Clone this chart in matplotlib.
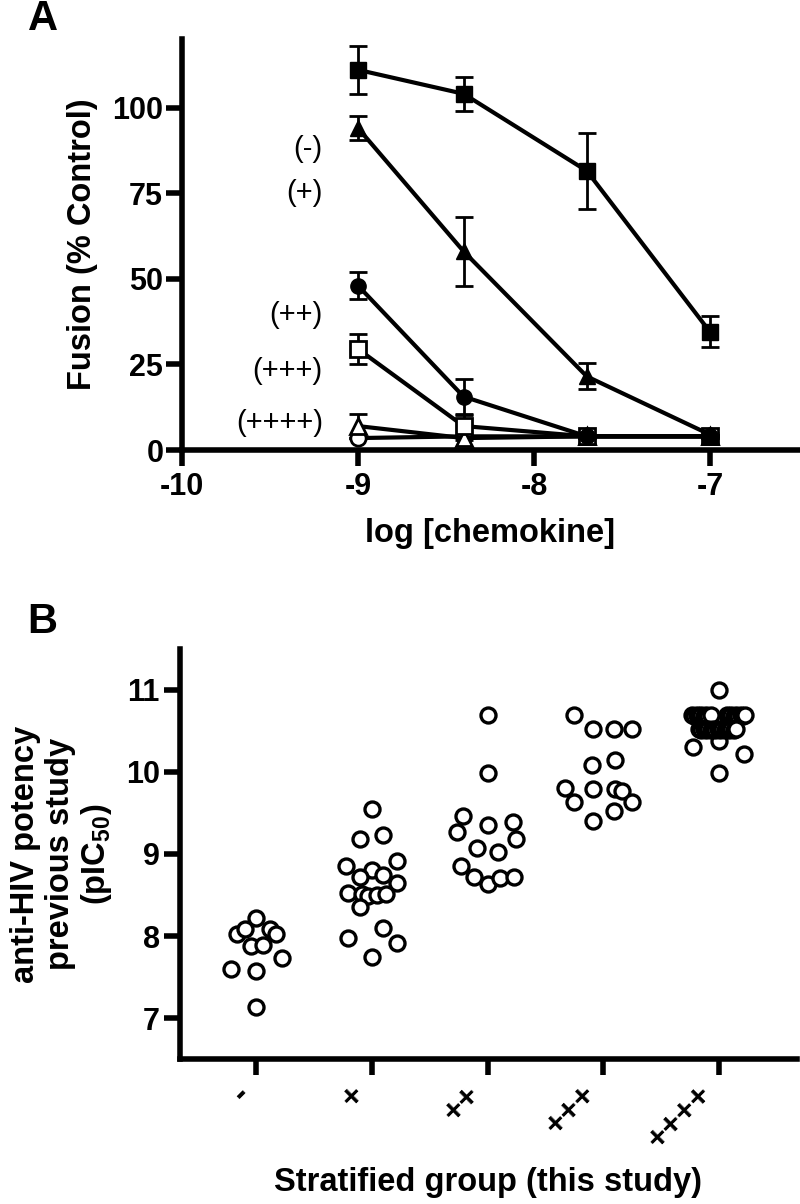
import matplotlib
matplotlib.use("Agg")
import matplotlib.pyplot as plt
import numpy as np

plt.rcParams['font.family'] = ['Liberation Sans', 'DejaVu Sans']
plt.rcParams['font.weight'] = 'bold'
plt.rcParams['axes.unicode_minus'] = False
plt.rcParams['mathtext.fontset'] = 'custom'
plt.rcParams['mathtext.rm'] = 'Liberation Sans:bold'
plt.rcParams['mathtext.default'] = 'rm'

# ---- Panel A data: fusion (% control) vs log [chemokine]
log_conc = [-9, -8.4, -7.7, -7]
fus_sq = [111, 104, 81.5, 34.5]
err_sq = [7, 5, 11, 4.5]
fus_tri = [94, 58, 21.5, 4.5]
err_tri = [3.5, 10, 3.8, 0.5]
fus_circ = [48, 15.6, 4, 4]
err_circ = [4, 5, 0.5, 0.5]
fus_osq = [29.5, 7, 4, 4]
err_osq = [4.5, 3.2, 0.5, 0.5]
fus_otri = [7, 3.5, 4, 4]
err_otri = [3.5, 0.5, 0.5, 0.5]
fus_ocirc = [3.5, 4, 4, 4]
err_ocirc = [0, 0, 0, 0]

grade_labels = ['(-)', '(+)', '(++)', '(+++)', '(++++)']
grade_label_y = [88, 75, 39.5, 23, 8]

# ---- Panel B data: pIC50 per stratified group (value, horizontal spread)
groups = ['-', '+', '++', '+++', '++++']
vals1 = [8.22, 8.03, 8.08, 8.08, 8.03, 7.88, 7.89, 7.73, 7.60, 7.57, 7.13]
offs1 = [0, -0.17, -0.10, 0.12, 0.17, -0.05, 0.06, 0.22, -0.22, 0, 0]
vals2 = [9.55, 9.18, 9.23, 8.85, 8.91, 8.81, 8.72, 8.75, 8.65, 8.52, 8.51, 8.49,
         8.50, 8.51, 8.35, 8.10, 7.98, 7.92, 7.74]
offs2 = [0, -0.10, 0.10, -0.22, 0.22, 0, -0.10, 0.10, 0.22, -0.21, -0.09, -0.03,
         0.04, 0.12, -0.10, 0.10, -0.21, 0.22, 0]
vals3 = [10.69, 9.99, 9.46, 9.27, 9.35, 9.39, 9.18, 9.07, 9.02, 8.85, 8.72, 8.64, 8.71, 8.72]
offs3 = [0, 0, -0.21, -0.26, 0, 0.22, 0.25, -0.09, 0.09, -0.23, -0.12, 0, 0.11, 0.23]
vals4 = [10.69, 10.52, 10.52, 10.52, 10.09, 10.15, 9.81, 9.79, 9.79, 9.77, 9.63, 9.63, 9.52, 9.40]
offs4 = [-0.25, -0.09, 0.09, 0.25, -0.10, 0.10, -0.33, -0.09, 0.10, 0.16, 0.25, -0.25, 0.09, -0.09]
vals5 = [11.0, 10.38, 10.30, 10.22, 9.99,
         10.70, 10.68, 10.70, 10.68, 10.70, 10.68, 10.70, 10.68, 10.70,
         10.70, 10.68, 10.70, 10.68, 10.70, 10.68, 10.70, 10.68, 10.70,
         10.53, 10.51, 10.53, 10.51, 10.53, 10.51, 10.53, 10.51, 10.53,
         10.51, 10.53, 10.51, 10.53, 10.51, 10.53, 10.51, 10.53]
offs5 = [0, 0, -0.22, 0.22, 0,
         -0.23, -0.21, -0.19, -0.17, -0.15, -0.13, -0.11, -0.09, -0.07,
         0.07, 0.09, 0.11, 0.13, 0.15, 0.17, 0.19, 0.21, 0.23,
         -0.17, -0.15, -0.13, -0.11, -0.09, -0.07, -0.05, -0.03, -0.01,
         0.01, 0.03, 0.05, 0.07, 0.09, 0.11, 0.13, 0.15]
group_vals = [vals1, vals2, vals3, vals4, vals5]
group_offs = [offs1, offs2, offs3, offs4, offs5]

fig = plt.figure(figsize=(8, 12.04), dpi=100)
axA = fig.add_axes([0.2275, 0.6262, 0.77, 0.3414])
axB = fig.add_axes([0.225, 0.1204, 0.771, 0.3406])

for ax in (axA, axB):
    for s in ('top', 'right'):
        ax.spines[s].set_visible(False)
    for s in ('left', 'bottom'):
        ax.spines[s].set_linewidth(4)
    ax.tick_params(width=4, length=11.5, labelsize=22)

# Panel A - open symbols first, filled on top (as in the original)
line_kw = dict(color='black', lw=3, elinewidth=2, capsize=6.5, capthick=2, ms=11, clip_on=False)
axA.errorbar(log_conc, fus_ocirc, yerr=err_ocirc, marker='o', mfc='white', mec='black', mew=2, **line_kw)
axA.errorbar(log_conc, fus_otri, yerr=err_otri, marker='^', mfc='white', mec='black', mew=2, **line_kw)
axA.errorbar(log_conc, fus_osq, yerr=err_osq, marker='s', mfc='white', mec='black', mew=2, **line_kw)
axA.errorbar(log_conc, fus_sq, yerr=err_sq, marker='s', mfc='black', mec='black', **line_kw)
axA.errorbar(log_conc, fus_tri, yerr=err_tri, marker='^', mfc='black', mec='black', **line_kw)
axA.errorbar(log_conc, fus_circ, yerr=err_circ, marker='o', mfc='black', mec='black', **line_kw)

for lab, yy in zip(grade_labels, grade_label_y):
    axA.text(-9.2, yy, lab, ha='right', va='center', fontsize=21, fontweight='normal')

axA.set_xlim(-10, -6.5)
axA.set_ylim(0, 120)
axA.set_xticks([-10, -9, -8, -7])
axA.set_yticks([0, 25, 50, 75, 100])
axA.tick_params(axis='y', pad=2)
axA.tick_params(axis='x', pad=4)
axA.text(-0.161, 0.5, 'Fusion (% Control)', transform=axA.transAxes, rotation=90,
         ha='center', va='center', fontsize=23.5)
axA.text(0.5, -0.202, 'log [chemokine]', transform=axA.transAxes,
         ha='center', va='center', fontsize=23.5)

# Panel B
for i, (vals, offs) in enumerate(zip(group_vals, group_offs)):
    xs = i + np.array(offs)
    axB.plot(xs, vals, ls='none', marker='o', ms=10.8, mfc='white', mec='black', mew=2.4)

axB.set_xlim(-0.66, 4.675)
axB.set_ylim(6.5, 11.5)
axB.set_yticks([7, 8, 9, 10, 11])
axB.set_xticks(range(len(groups)))
axB.set_xticklabels(groups, rotation=45, ha='right', va='top', fontsize=24)
axB.tick_params(axis='y', pad=3)
axB.tick_params(axis='x', pad=3)
axB.text(-0.191, 0.5, 'anti-HIV potency\nprevious study\n(pIC$_{50}$)', transform=axB.transAxes,
         rotation=90, ha='center', va='center', fontsize=23.5, linespacing=1.15)
axB.text(0.5, -0.302, 'Stratified group (this study)', transform=axB.transAxes,
         ha='center', va='center', fontsize=23.5)

fig.text(0.054, 0.984, 'A', ha='center', va='center', fontsize=30, fontweight='bold')
fig.text(0.0525, 0.4834, 'B', ha='center', va='center', fontsize=30, fontweight='bold')

fig.savefig('out.png', dpi=100)
